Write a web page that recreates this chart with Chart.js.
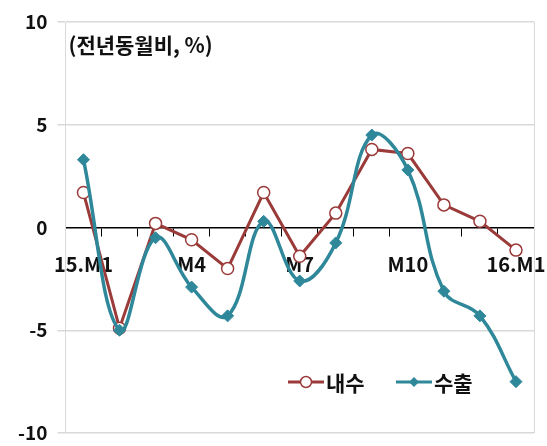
<!DOCTYPE html>
<html>
<head>
<meta charset="utf-8">
<script src="https://cdn.jsdelivr.net/npm/chart.js@4/dist/chart.umd.min.js"></script>
<style>
  html, body { margin: 0; padding: 0; background: #fff; }
  #wrap { width: 547px; height: 446px; position: relative; }
</style>
</head>
<body>
<div id="wrap"><canvas id="c" width="547" height="446"></canvas></div>
<script>
// Monthly categories, Jan 2015 – Jan 2016
const categories = ['15.M1','M2','M3','M4','M5','M6','M7','M8','M9','M10','M11','M12','16.M1'];
// Axis labels shown under the zero line (every third month)
const tickLabels = ['15.M1','','','M4','','','M7','','','M10','','','16.M1'];
// Year-on-year change, %
const domesticDemand = [1.7, -4.9, 0.2, -0.6, -2.0, 1.7, -1.4, 0.7, 3.8, 3.6, 1.1, 0.3, -1.1];
const exportsYoY     = [3.3, -5.0, -0.5, -2.9, -4.3, 0.3, -2.6, -0.75, 4.5, 2.8, -3.1, -4.3, -7.5];
const seriesNames = ['내수', '수출'];
const yTicks = [-10, -5, 0, 5, 10];
const unitNote = '(전년동월비, %)';

const RED = '#9A3B3A';
const TEAL = '#2F889A';
const FONT = '"Noto Sans CJK KR", "Noto Sans", sans-serif';

// Draws the unit note, the right frame edge and the in-plot legend
const decorations = {
  id: 'decorations',
  afterDraw(chart) {
    const { ctx, chartArea } = chart;
    ctx.save();
    // right frame edge
    ctx.strokeStyle = '#d9d9d9';
    ctx.lineWidth = 1;
    ctx.beginPath();
    ctx.moveTo(chartArea.right + 0.5, chartArea.top);
    ctx.lineTo(chartArea.right + 0.5, chartArea.bottom);
    ctx.stroke();

    // unit note
    ctx.fillStyle = '#111';
    ctx.font = 'bold 21px ' + FONT;
    ctx.textBaseline = 'middle';
    ctx.textAlign = 'left';
    ctx.fillText(unitNote, chartArea.left + 3, 45);

    // legend
    const ly = 382;
    const items = [
      { x: 288, color: RED, name: seriesNames[0], marker: 'circle' },
      { x: 396, color: TEAL, name: seriesNames[1], marker: 'diamond' }
    ];
    items.forEach(it => {
      ctx.strokeStyle = it.color;
      ctx.lineWidth = 3;
      ctx.beginPath();
      ctx.moveTo(it.x, ly);
      ctx.lineTo(it.x + 36, ly);
      ctx.stroke();
      const cx = it.x + 18;
      if (it.marker === 'circle') {
        ctx.fillStyle = '#fff';
        ctx.lineWidth = 1.5;
        ctx.beginPath();
        ctx.arc(cx, ly, 5.5, 0, Math.PI * 2);
        ctx.fill();
        ctx.stroke();
      } else {
        ctx.fillStyle = it.color;
        ctx.beginPath();
        ctx.moveTo(cx, ly - 5);
        ctx.lineTo(cx + 5, ly);
        ctx.lineTo(cx, ly + 5);
        ctx.lineTo(cx - 5, ly);
        ctx.closePath();
        ctx.fill();
      }
      ctx.fillStyle = '#111';
      ctx.font = 'bold 21px ' + FONT;
      ctx.textAlign = 'left';
      ctx.fillText(it.name, it.x + 38, ly + 1);
    });
    ctx.restore();
  }
};

new Chart(document.getElementById('c'), {
  type: 'line',
  data: {
    labels: categories,
    datasets: [
      {
        label: seriesNames[0],
        data: domesticDemand,
        borderColor: RED,
        borderWidth: 3,
        tension: 0,
        pointStyle: 'circle',
        pointRadius: 6,
        pointBackgroundColor: '#fff',
        pointBorderColor: RED,
        pointBorderWidth: 1.5,
        order: 2
      },
      {
        label: seriesNames[1],
        data: exportsYoY,
        borderColor: TEAL,
        borderWidth: 3.5,
        cubicInterpolationMode: 'default',
        tension: 0.4,
        pointStyle: 'rectRot',
        pointRadius: 6,
        pointBackgroundColor: TEAL,
        pointBorderColor: TEAL,
        pointBorderWidth: 1,
        order: 1
      }
    ]
  },
  options: {
    responsive: false,
    animation: false,
    layout: { padding: { top: 22, right: 13, bottom: 13, left: 8 } },
    plugins: { legend: { display: false }, tooltip: { enabled: false } },
    scales: {
      x: {
        type: 'category',
        position: { y: 0 },
        offset: true,
        afterFit: (s) => { s.height = 0; s.paddingLeft = 0; s.paddingRight = 0; },
        grid: {
          display: true,
          drawOnChartArea: false,
          drawTicks: true,
          tickLength: 8,
          offset: true,
          color: '#000'
        },
        border: { display: true, color: '#000', width: 1.5 },
        ticks: {
          autoSkip: false,
          maxRotation: 0,
          padding: 17,
          color: '#111',
          font: { family: FONT, size: 20, weight: 'bold' },
          callback: (v, i) => tickLabels[i]
        }
      },
      y: {
        min: -10,
        max: 10,
        afterBuildTicks: (scale) => { scale.ticks = yTicks.map(v => ({ value: v })); },
        afterFit: (s) => { s.paddingTop = 0; s.paddingBottom = 0; },
        grid: {
          color: (ctx) => ctx.tick && ctx.tick.value === 0 ? 'rgba(0,0,0,0)' : '#d9d9d9',
          tickLength: 8,
          lineWidth: 1.5
        },
        border: { display: true, color: '#d9d9d9' },
        ticks: {
          padding: 10,
          color: '#111',
          font: { family: FONT, size: 19, weight: 'bold' }
        }
      }
    }
  },
  plugins: [decorations]
});
</script>
</body>
</html>
